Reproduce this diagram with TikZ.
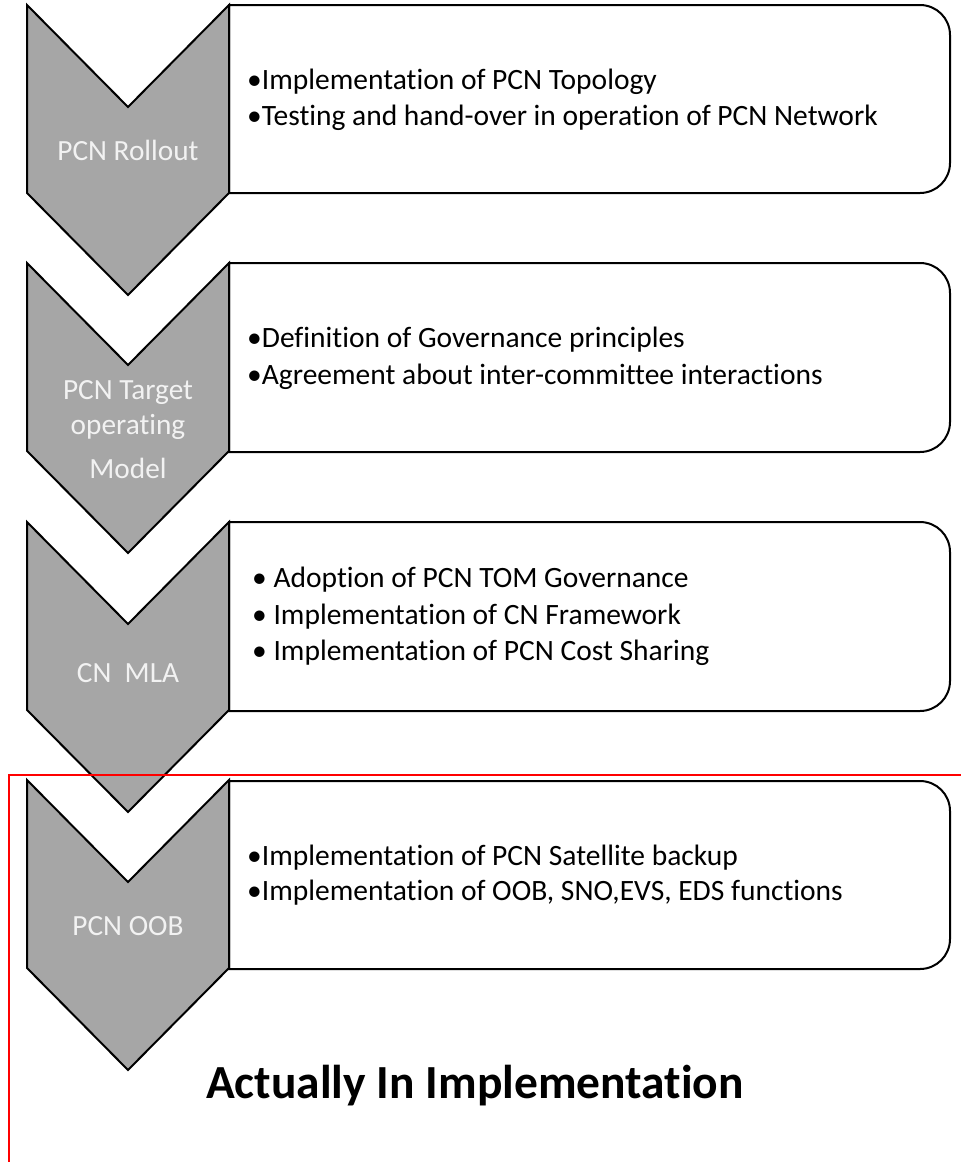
\documentclass[tikz,border=0pt]{standalone}
\usepackage{fontspec}
\setmainfont{Carlito}[Ligatures=NoCommon]
\definecolor{chev}{HTML}{A6A6A6}
\definecolor{chevtext}{HTML}{F2F2F2}
\definecolor{redline}{HTML}{FF0000}
\tikzset{
  chevshape/.style={draw=black, line width=2pt, fill=chev, line join=miter},
  boxshape/.style={draw=black, line width=2pt, fill=white},
  chevlabel/.style={text=chevtext, font=\fontsize{29.3}{34}\selectfont, inner sep=0pt, anchor=center},
  boxtext/.style={text=black, font=\fontsize{29.5}{34}\selectfont, inner sep=0pt, anchor=west},
  frameline/.style={draw=redline, line width=2.2pt}
}
\newcommand{\stagebox}[2]{% top, bottom
  \draw[boxshape] (229,#1) -- (920,#1) arc[start angle=90,end angle=0,radius=30pt] -- (950,#2-30) arc[start angle=0,end angle=-90,radius=30pt] -- (229,#2) -- cycle;
}
\newcommand{\stagechev}[1]{%
  \draw[chevshape] (27,#1) -- (128,#1+102) -- (229,#1) -- (229,#1+188) -- (128,#1+290) -- (27,#1+188) -- cycle;
}
\begin{document}
\begin{tikzpicture}[x=1pt,y=-1pt]
\useasboundingbox (0,0) rectangle (961,1162);
% stage 1
\stagebox{5}{193}
\stagechev{5}
\node[chevlabel] (c1) at (128,150) {PCN Rollout};
\node[boxtext] (t1a) at (247,82) {•Implementation of PCN Topology};
\node[boxtext] (t1b) at (247,118) {•Testing and hand-over in operation of PCN Network};
% stage 2
\stagebox{263}{452}
\stagechev{263}
\node[chevlabel] (c2a) at (128,393) {PCN Target};
\node[chevlabel] (c2b) at (128,427) {operating};
\node[chevlabel] (c2c) at (128,468) {Model};
\node[boxtext] (t2a) at (247,340) {•Definition of Governance principles};
\node[boxtext] (t2b) at (247,377) {•Agreement about inter-committee interactions};
% stage 3
\stagebox{522}{711}
\stagechev{522}
\node[chevlabel] (c3) at (128,673) {CN\ \ MLA};
\node[boxtext] (t3a) at (252,580) {• Adoption of PCN TOM Governance};
\node[boxtext] (t3b) at (252,617) {• Implementation of CN Framework};
\node[boxtext] (t3c) at (252,653) {• Implementation of PCN Cost Sharing};
% stage 4
\stagebox{781}{969}
\stagechev{780}
\node[chevlabel] (c4) at (128,926) {PCN OOB};
\node[boxtext] (t4a) at (247,858) {•Implementation of PCN Satellite backup};
\node[boxtext] (t4b) at (247,893) {•Implementation of OOB, SNO,EVS, EDS functions};
% red frame
\coordinate (fr) at (961,775);
\coordinate (fc) at (9,775);
\coordinate (fb) at (9,1162);
\draw[frameline] (fr) -- (fc) -- (fb);
\node[font=\bfseries\fontsize{47.5}{56}\selectfont, inner sep=0pt] (title) at (475,1086) {Actually In Implementation};
\end{tikzpicture}
\end{document}
